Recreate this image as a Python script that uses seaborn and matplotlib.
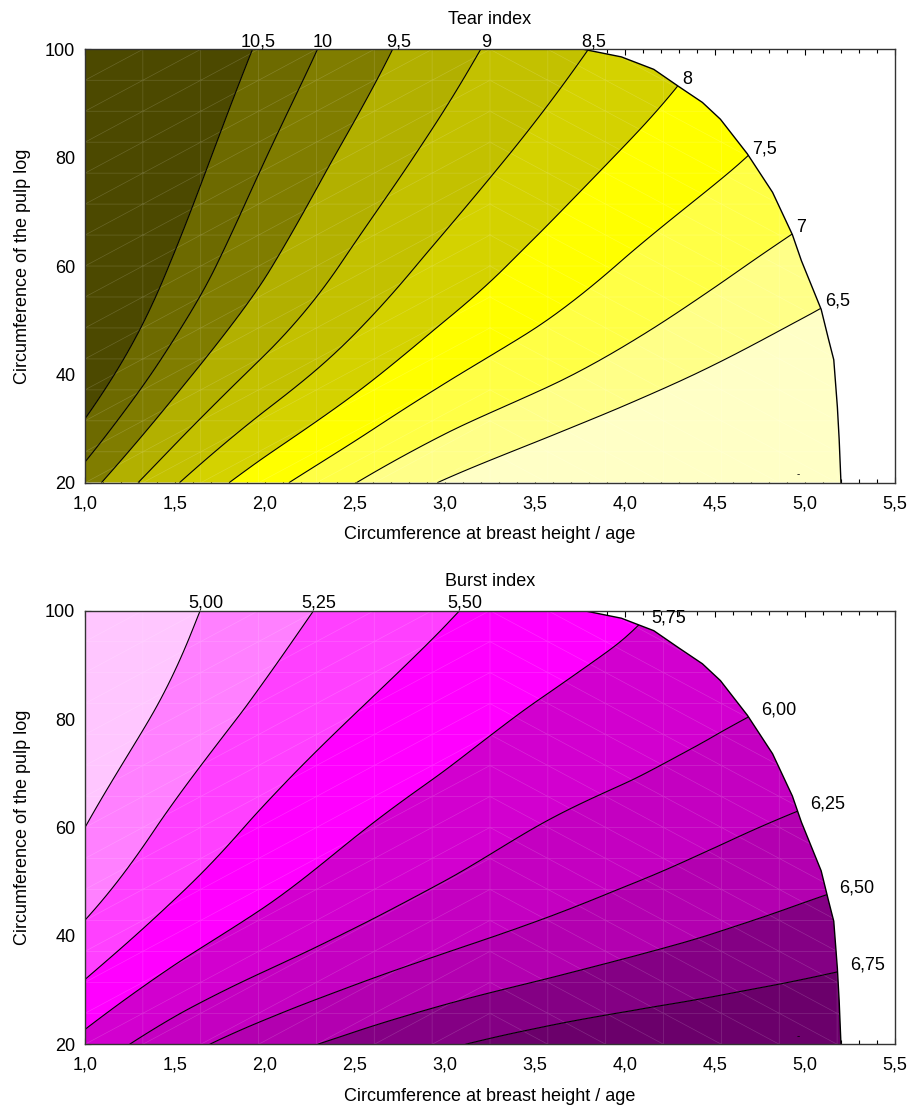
import numpy as np
import matplotlib
matplotlib.use("Agg")
import matplotlib.pyplot as plt
import matplotlib.tri as mtri
from matplotlib.patches import Polygon
from matplotlib.path import Path
from matplotlib.ticker import MultipleLocator, FuncFormatter
import seaborn as sns

# surface values on a coarse grid
grid_x = [1.0, 1.5, 2.0, 2.5, 3.0, 3.5, 4.0, 4.5, 5.0, 5.5]
grid_y = [20, 40, 60, 80, 100]

tear_z = [
    [9.74, 8.55, 7.69, 7.01, 6.46, 6.04, 5.65, 5.30, 4.98, 4.70],
    [10.94, 9.70, 8.84, 8.18, 7.58, 7.16, 6.78, 6.42, 6.10, 5.85],
    [11.55, 10.43, 9.56, 8.89, 8.33, 7.86, 7.46, 7.11, 6.79, 6.50],
    [11.95, 10.88, 10.01, 9.36, 8.82, 8.36, 7.95, 7.61, 7.30, 7.05],
    [12.20, 11.20, 10.40, 9.74, 9.19, 8.74, 8.34, 7.96, 7.60, 7.30],
]
burst_z = [
    [5.83, 6.15, 6.39, 6.57, 6.72, 6.84, 6.92, 6.97, 7.02, 7.06],
    [5.31, 5.63, 5.85, 6.03, 6.18, 6.30, 6.41, 6.51, 6.60, 6.68],
    [5.00, 5.31, 5.55, 5.73, 5.87, 6.00, 6.10, 6.20, 6.30, 6.38],
    [4.78, 5.08, 5.32, 5.51, 5.65, 5.78, 5.87, 5.97, 6.05, 6.12],
    [4.63, 4.93, 5.15, 5.33, 5.48, 5.60, 5.72, 5.82, 5.92, 6.00],
]

tear_levels = [6.5, 7.0, 7.5, 8.0, 8.5, 9.0, 9.5, 10.0, 10.5]
burst_levels = [5.00, 5.25, 5.50, 5.75, 6.00, 6.25, 6.50, 6.75]

tear_colors = ["#ffffc6", "#ffff88", "#ffff45", "#ffff00", "#d4d200",
               "#c3c100", "#b2b000", "#807d00", "#6d6a00", "#4c4900"]
burst_colors = ["#ffc6ff", "#ff80ff", "#ff40ff", "#ff00ff", "#d200cf",
                "#c400c1", "#b300b0", "#840084", "#6b006b"]

# outer edge of the data region (upper right)
edge_x = [3.77, 3.98, 4.16, 4.30, 4.43, 4.53, 4.68, 4.82, 4.93, 4.98, 5.09, 5.13, 5.16, 5.18, 5.19, 5.20]
edge_y = [100, 98.6, 96.3, 93.1, 90.2, 87.1, 80.7, 73.6, 65.8, 61.0, 52.0, 46.6, 42.7, 34.0, 28.0, 20]

sns.set_theme(style="white")
plt.rcParams["font.family"] = ["Liberation Sans", "DejaVu Sans"]
plt.rcParams["text.color"] = "black"
plt.rcParams["axes.labelcolor"] = "black"
plt.rcParams["xtick.color"] = "black"
plt.rcParams["ytick.color"] = "black"

FS = 13
comma = lambda s: s.replace(".", ",")


def grid_triangles(nx, ny, split):
    tris = []
    for j in range(ny - 1):
        for i in range(nx - 1):
            a, b, c, d = j * nx + i, j * nx + i + 1, (j + 1) * nx + i, (j + 1) * nx + i + 1
            if i < split:
                tris += [[a, b, d], [a, d, c]]
            else:
                tris += [[a, b, c], [b, d, c]]
    return tris


def smooth_surface(z):
    # let matplotlib's cubic tri interpolator smooth the coarse table (y scaled to match x)
    gx, gy = np.meshgrid(grid_x, np.array(grid_y) / 20.0)
    tri = mtri.Triangulation(gx.ravel(), gy.ravel(), grid_triangles(len(grid_x), len(grid_y), 99))
    interp = mtri.CubicTriInterpolator(tri, np.ravel(z), kind="min_E")
    tri_f, z_f = mtri.UniformTriRefiner(tri).refine_field(np.ravel(z), triinterpolator=interp, subdiv=4)
    return mtri.Triangulation(tri_f.x, tri_f.y * 20.0, tri_f.triangles), z_f


def draw_panel(ax, z, levels, colors, fmt, title, label_off):
    region = list(zip([1.0, 1.0] + edge_x, [20, 100] + edge_y))
    clip = Polygon(region, closed=True, transform=ax.transData, facecolor="none", edgecolor="none")
    ax.add_patch(clip)

    tri_f, z_f = smooth_surface(z)
    bounds = [-100] + levels + [100]
    cf = ax.tricontourf(tri_f, z_f, levels=bounds, colors=colors, antialiased=True)
    cf.set_clip_path(clip)
    cl = ax.tricontour(tri_f, z_f, levels=levels, colors="black", linewidths=0.8)
    cl.set_clip_path(clip)

    # faint interpolation mesh like the original software draws
    mx = np.linspace(1.0, 5.5, 15)
    my = np.linspace(20, 100, 15)
    gx, gy = np.meshgrid(mx, my)
    mesh = mtri.Triangulation(gx.ravel(), gy.ravel(), grid_triangles(15, 15, 7))
    for ln in ax.triplot(mesh, color="white", lw=0.5, alpha=0.16):
        ln.set_clip_path(clip)

    ax.plot(edge_x, edge_y, color="black", lw=1.0)

    # label each contour where it leaves the data region
    test = Path([(0.9, 19), (0.9, 101), (edge_x[0], 101)] + list(zip(edge_x, edge_y)) + [(edge_x[-1], 19)])
    for lev, segs in zip(levels, cl.allsegs):
        segs = [s for s in segs if len(s) > 1]
        if not segs:
            continue
        pts = np.concatenate([np.linspace(p, q, 20) for s in segs for p, q in zip(s[:-1], s[1:])])
        pts = pts[test.contains_points(pts)]
        if len(pts) == 0:
            continue
        px, py = pts[np.argmax(pts[:, 1])]
        if py > 98.5:
            ax.annotate(comma(fmt.format(lev)), (px, 100), xytext=(4, 2), textcoords="offset points",
                        ha="center", va="baseline", fontsize=FS, annotation_clip=False)
        else:
            ax.annotate(comma(fmt.format(lev)), (px, py), xytext=label_off, textcoords="offset points",
                        ha="left", va="center", fontsize=FS, annotation_clip=False)

    ax.text(4.96, 20.6, "-", fontsize=7, ha="center", va="bottom")

    ax.set_xlim(1.0, 5.5)
    ax.set_ylim(20, 100)
    ax.xaxis.set_major_locator(MultipleLocator(0.5))
    ax.xaxis.set_minor_locator(MultipleLocator(0.1))
    ax.yaxis.set_major_locator(MultipleLocator(20))
    ax.yaxis.set_minor_locator(MultipleLocator(4))
    ax.xaxis.set_major_formatter(FuncFormatter(lambda v, p: comma(f"{v:.1f}")))
    ax.yaxis.set_major_formatter(FuncFormatter(lambda v, p: f"{v:.0f}"))
    ax.tick_params(which="both", direction="in", top=True, bottom=True, left=True, right=False,
                   width=0.8, color="black", labelsize=FS)
    ax.tick_params(which="major", length=4, pad=7)
    ax.tick_params(which="minor", length=3)
    ax.tick_params(axis="x", which="major", pad=9)
    for sp in ax.spines.values():
        sp.set_color("#333333")
        sp.set_linewidth(1.0)
    ax.set_title(title, fontsize=FS, pad=18)
    ax.set_xlabel("Circumference at breast height / age", fontsize=FS, labelpad=10)
    ax.set_ylabel("Circumference of the pulp log", fontsize=FS, labelpad=10)


fig = plt.figure(figsize=(9.11, 11.08), dpi=100)
ax1 = fig.add_axes([0.0933, 0.5643, 0.8891, 0.3912])
ax2 = fig.add_axes([0.0933, 0.0575, 0.8891, 0.3914])

draw_panel(ax1, tear_z, tear_levels, tear_colors, "{:g}", "Tear index", (3, 5))
draw_panel(ax2, burst_z, burst_levels, burst_colors, "{:.2f}", "Burst index", (9, 5))

fig.savefig("out.png", dpi=100)
